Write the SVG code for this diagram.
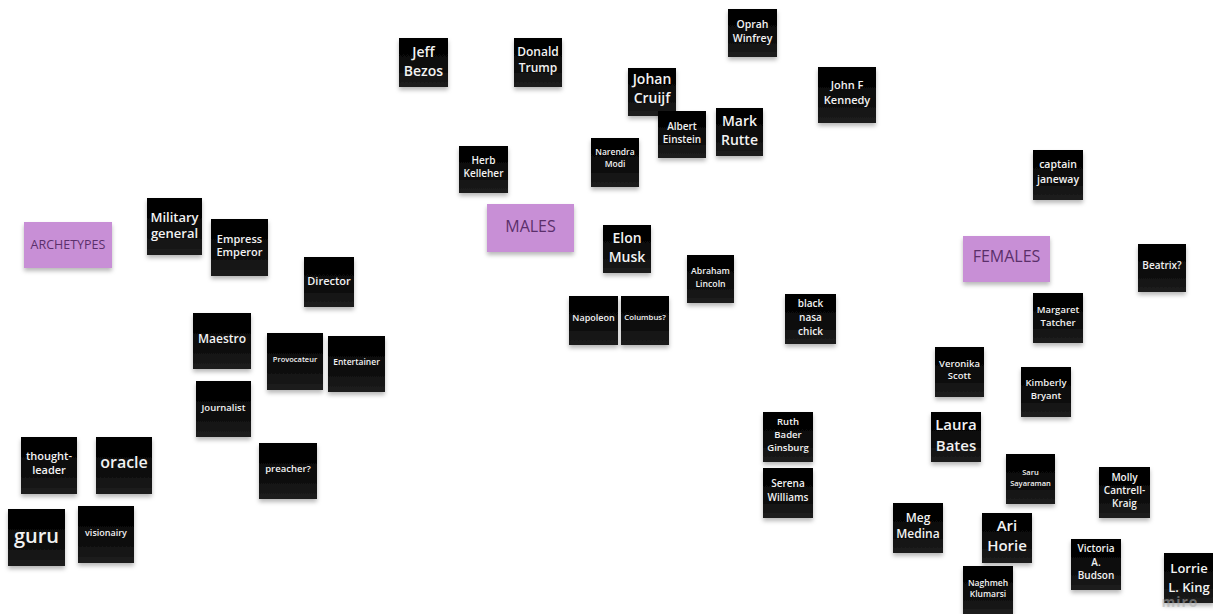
<svg xmlns="http://www.w3.org/2000/svg" width="1213" height="614" viewBox="0 0 1213 614">
<defs>
<linearGradient id="blk" x1="0" y1="0" x2="0" y2="1">
<stop offset="0" stop-color="#000"/>
<stop offset="0.55" stop-color="#0a0a0a"/>
<stop offset="1" stop-color="#1e1e1e"/>
</linearGradient>
<filter id="sh" x="-20%" y="-20%" width="140%" height="150%">
<feDropShadow dx="0" dy="3" stdDeviation="2" flood-color="#000" flood-opacity="0.28"/>
</filter>
<style>
.n{fill:url(#blk);filter:url(#sh)}
.p{fill:#c88fd6;filter:url(#sh)}
.t{fill:#f2f2f2;font-family:'Open Sans','Noto Sans',sans-serif;font-weight:600;text-anchor:middle}
.pt{fill:#5b2f6b;font-family:'Open Sans','Noto Sans',sans-serif;font-weight:400;text-anchor:middle}
</style>
</defs>
<rect width="1213" height="614" fill="#fff"/>
<g id="notes">
<g id="archetypes"><rect class="p" x="24" y="222" width="88" height="46"/><text class="pt" x="68" y="249" font-size="12.5">ARCHETYPES</text></g>
<g id="military"><rect class="n" x="147" y="198" width="55" height="57"/><text class="t" font-size="13"><tspan x="174.5" y="222">Military</tspan><tspan x="174.5" y="238">general</tspan></text></g>
<g id="empress"><rect class="n" x="211" y="219" width="57" height="57"/><text class="t" font-size="11"><tspan x="239.5" y="243">Empress</tspan><tspan x="239.5" y="256">Emperor</tspan></text></g>
<g id="director"><rect class="n" x="304" y="257" width="50" height="50"/><text class="t" x="329" y="285" font-size="11">Director</text></g>
<g id="maestro"><rect class="n" x="193" y="313" width="58" height="56"/><text class="t" x="222" y="343" font-size="12">Maestro</text></g>
<g id="provocateur"><rect class="n" x="267" y="333" width="56" height="57"/><text class="t" x="295" y="362" font-size="7.5">Provocateur</text></g>
<g id="entertainer"><rect class="n" x="328" y="336" width="57" height="56"/><text class="t" x="356.5" y="365" font-size="8.5">Entertainer</text></g>
<g id="journalist"><rect class="n" x="196" y="381" width="55" height="56"/><text class="t" x="223.5" y="411" font-size="9.5">Journalist</text></g>
<g id="thought-leader"><rect class="n" x="21" y="437" width="56" height="57"/><text class="t" font-size="11"><tspan x="49" y="460">thought-</tspan><tspan x="49" y="474">leader</tspan></text></g>
<g id="oracle"><rect class="n" x="96" y="437" width="56" height="57"/><text class="t" x="124" y="468" font-size="16">oracle</text></g>
<g id="guru"><rect class="n" x="8" y="509" width="57" height="57"/><text class="t" x="36.5" y="543" font-size="20">guru</text></g>
<g id="visionairy"><rect class="n" x="78" y="506" width="56" height="57"/><text class="t" x="106" y="536" font-size="9">visionairy</text></g>
<g id="preacher"><rect class="n" x="259" y="443" width="58" height="56"/><text class="t" x="288" y="472" font-size="9.5">preacher?</text></g>
<g id="jeff-bezos"><rect class="n" x="399" y="38" width="49" height="49"/><text class="t" font-size="14"><tspan x="423.5" y="57">Jeff</tspan><tspan x="423.5" y="76">Bezos</tspan></text></g>
<g id="donald-trump"><rect class="n" x="514" y="38" width="48" height="49"/><text class="t" font-size="12"><tspan x="538" y="56">Donald</tspan><tspan x="538" y="72">Trump</tspan></text></g>
<g id="oprah"><rect class="n" x="728" y="9" width="49" height="48"/><text class="t" font-size="10.5"><tspan x="752.5" y="28">Oprah</tspan><tspan x="752.5" y="42">Winfrey</tspan></text></g>
<g id="johan-cruijf"><rect class="n" x="628" y="68" width="48" height="48"/><text class="t" font-size="14"><tspan x="652" y="84">Johan</tspan><tspan x="652" y="103">Cruijf</tspan></text></g>
<g id="albert-einstein"><rect class="n" x="658" y="111" width="48" height="47"/><text class="t" font-size="10"><tspan x="682" y="130">Albert</tspan><tspan x="682" y="143">Einstein</tspan></text></g>
<g id="mark-rutte"><rect class="n" x="716" y="108" width="47" height="48"/><text class="t" font-size="14"><tspan x="739.5" y="126">Mark</tspan><tspan x="739.5" y="145">Rutte</tspan></text></g>
<g id="narendra-modi"><rect class="n" x="591" y="138" width="48" height="49"/><text class="t" font-size="8.5"><tspan x="615" y="155">Narendra</tspan><tspan x="615" y="167">Modi</tspan></text></g>
<g id="herb-kelleher"><rect class="n" x="459" y="146" width="49" height="47"/><text class="t" font-size="10"><tspan x="483.5" y="164">Herb</tspan><tspan x="483.5" y="177">Kelleher</tspan></text></g>
<g id="males"><rect class="p" x="487" y="204" width="87" height="48"/><text class="pt" x="530.5" y="232" font-size="16">MALES</text></g>
<g id="elon-musk"><rect class="n" x="603" y="225" width="48" height="48"/><text class="t" font-size="14"><tspan x="627" y="243">Elon</tspan><tspan x="627" y="262">Musk</tspan></text></g>
<g id="abraham-lincoln"><rect class="n" x="687" y="255" width="47" height="48"/><text class="t" font-size="8.7"><tspan x="710.5" y="274">Abraham</tspan><tspan x="710.5" y="287">Lincoln</tspan></text></g>
<g id="napoleon"><rect class="n" x="569" y="296" width="49" height="49"/><text class="t" x="593.5" y="321" font-size="9">Napoleon</text></g>
<g id="columbus"><rect class="n" x="621" y="296" width="48" height="49"/><text class="t" x="645" y="320" font-size="7.8">Columbus?</text></g>
<g id="black-nasa-chick"><rect class="n" x="785" y="294" width="51" height="50"/><text class="t" font-size="10"><tspan x="810.5" y="307">black</tspan><tspan x="810.5" y="321">nasa</tspan><tspan x="810.5" y="335">chick</tspan></text></g>
<g id="jfk"><rect class="n" x="818" y="67" width="58" height="56"/><text class="t" font-size="11"><tspan x="847" y="89">John F</tspan><tspan x="847" y="104">Kennedy</tspan></text></g>
<g id="captain-janeway"><rect class="n" x="1033" y="150" width="50" height="50"/><text class="t" font-size="10.5"><tspan x="1058" y="168">captain</tspan><tspan x="1058" y="183">janeway</tspan></text></g>
<g id="females"><rect class="p" x="963" y="236" width="87" height="46"/><text class="pt" x="1006.5" y="262" font-size="16">FEMALES</text></g>
<g id="beatrix"><rect class="n" x="1138" y="244" width="48" height="48"/><text class="t" x="1162" y="269" font-size="10">Beatrix?</text></g>
<g id="margaret-tatcher"><rect class="n" x="1033" y="293" width="50" height="50"/><text class="t" font-size="9.5"><tspan x="1058" y="313">Margaret</tspan><tspan x="1058" y="326">Tatcher</tspan></text></g>
<g id="veronika-scott"><rect class="n" x="935" y="347" width="49" height="50"/><text class="t" font-size="9.5"><tspan x="959.5" y="367">Veronika</tspan><tspan x="959.5" y="379">Scott</tspan></text></g>
<g id="kimberly-bryant"><rect class="n" x="1021" y="367" width="50" height="50"/><text class="t" font-size="9.5"><tspan x="1046" y="386">Kimberly</tspan><tspan x="1046" y="399">Bryant</tspan></text></g>
<g id="ruth-bader-ginsburg"><rect class="n" x="763" y="412" width="50" height="50"/><text class="t" font-size="9.5"><tspan x="788" y="425">Ruth</tspan><tspan x="788" y="438">Bader</tspan><tspan x="788" y="451">Ginsburg</tspan></text></g>
<g id="laura-bates"><rect class="n" x="931" y="412" width="50" height="50"/><text class="t" font-size="15"><tspan x="956" y="430">Laura</tspan><tspan x="956" y="451">Bates</tspan></text></g>
<g id="saru-sayaraman"><rect class="n" x="1006" y="454" width="49" height="50"/><text class="t" font-size="7.5"><tspan x="1030.5" y="475">Saru</tspan><tspan x="1030.5" y="486">Sayaraman</tspan></text></g>
<g id="molly-cantrell-kraig"><rect class="n" x="1099" y="467" width="51" height="51"/><text class="t" font-size="10"><tspan x="1124.5" y="481">Molly</tspan><tspan x="1124.5" y="494">Cantrell-</tspan><tspan x="1124.5" y="507">Kraig</tspan></text></g>
<g id="serena-williams"><rect class="n" x="763" y="468" width="50" height="50"/><text class="t" font-size="10"><tspan x="788" y="487">Serena</tspan><tspan x="788" y="501">Williams</tspan></text></g>
<g id="meg-medina"><rect class="n" x="893" y="503" width="50" height="50"/><text class="t" font-size="12"><tspan x="918" y="522">Meg</tspan><tspan x="918" y="538">Medina</tspan></text></g>
<g id="ari-horie"><rect class="n" x="982" y="513" width="50" height="50"/><text class="t" font-size="15"><tspan x="1007" y="531">Ari</tspan><tspan x="1007" y="551">Horie</tspan></text></g>
<g id="victoria-budson"><rect class="n" x="1071" y="539" width="50" height="51"/><text class="t" font-size="10"><tspan x="1096" y="552">Victoria</tspan><tspan x="1096" y="566">A.</tspan><tspan x="1096" y="579">Budson</tspan></text></g>
<g id="naghmeh-klumarsi"><rect class="n" x="963" y="566" width="50" height="48"/><text class="t" font-size="8.5"><tspan x="988" y="586">Naghmeh</tspan><tspan x="988" y="597">Klumarsi</tspan></text></g>
<g id="lorrie-king"><rect class="n" x="1164" y="553" width="50" height="50"/><text class="t" font-size="13"><tspan x="1189" y="573">Lorrie</tspan><tspan x="1189" y="592">L. King</tspan></text></g>
</g>
<text x="1180" y="607" font-family="'Open Sans','Noto Sans',sans-serif" font-size="14" font-weight="700" letter-spacing="1" fill="#aaa" fill-opacity="0.55" text-anchor="middle">miro</text>
</svg>
